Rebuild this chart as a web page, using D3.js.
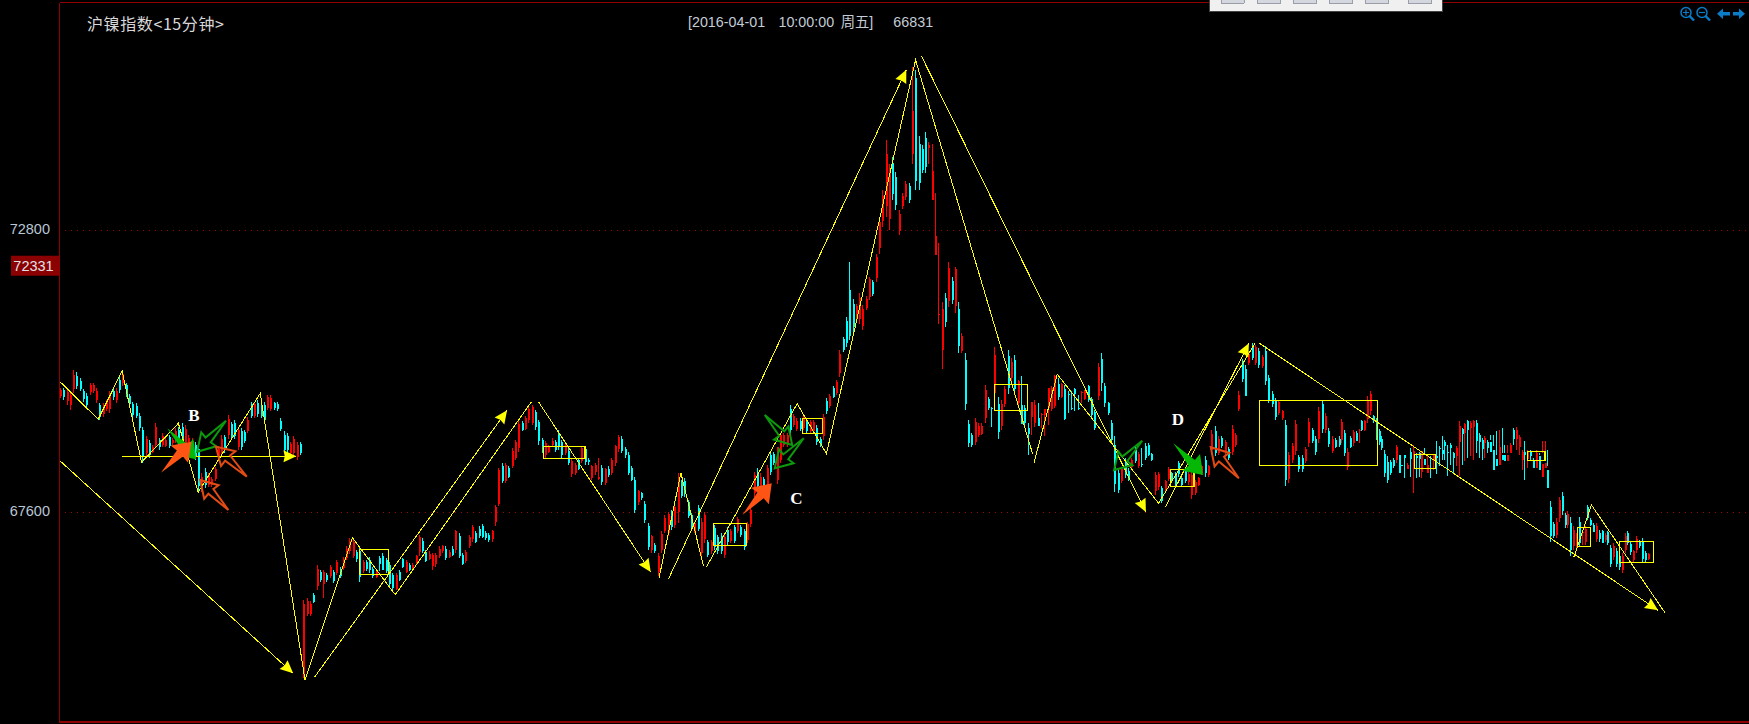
<!DOCTYPE html>
<html><head><meta charset="utf-8">
<style>html,body{margin:0;padding:0;background:#000;overflow:hidden}svg{display:block}text{white-space:pre}</style>
<script src="https://cdn.jsdelivr.net/npm/d3@7"></script></head><body><div id="c"></div>
<script>
const chartTitle="沪镍指数<15分钟>";
const cursorText="[2016-04-01  10:00:00 周五]   66831";
const tickLabels=[72800,67600];
const lastPrice=72331;
const highs=[
69890,69890,69860,69830,70230,70180,70070,69870,69800,69980,
69990,69890,69610,69610,69670,69830,69870,69890,70100,70210,
69980,69790,69640,69610,69430,69180,69010,68930,68840,69240,
68970,69060,68970,69030,68970,69150,69180,69240,69210,69030,
68970,68900,68840,68320,68410,68320,68260,68440,68810,69030,
69030,69390,69270,69300,69180,69150,69120,69360,69640,69640,
69670,69610,69640,69760,69760,69640,69640,69330,69090,69060,
68900,69010,68900,68900,65980,66020,65960,66110,66630,66540,
66540,66480,66630,66540,66720,66600,66780,66970,67120,67120,
66910,66940,66720,66720,66770,66600,66540,66790,66850,66760,
66690,66480,66480,66540,66760,66720,66660,66660,66820,67190,
67120,66910,66880,66850,66850,66970,67000,66970,66910,66970,
67280,67220,66850,66910,67190,67370,67250,67340,67390,67250,
67220,67280,67740,68420,68510,68510,68460,68780,68940,69280,
69280,69370,69550,69580,69490,69310,68970,68910,68850,68970,
68940,69120,68940,68880,68780,68600,68510,68600,68810,68810,
68600,68480,68510,68600,68480,68420,68450,68600,68850,69030,
69000,68810,68720,68450,68260,68010,67980,67800,67400,67190,
67030,66850,67250,67550,67610,67650,67740,68320,68200,68230,
67830,67590,67430,67740,67490,67610,67090,67090,67370,67180,
67210,67210,67330,67300,67370,67520,67370,67300,67430,67700,
68350,68410,68320,68260,68470,68720,68720,68630,68870,69060,
69060,69580,69420,69330,69330,69420,69330,69300,69300,69210,
68990,69420,69700,69790,69920,70040,70590,70840,71210,72220,
71540,71450,71640,71420,71580,71940,71880,72370,73050,73540,
74460,74030,74160,73880,73170,73480,73700,73670,75820,75750,
74530,74370,74620,74430,74400,73480,72560,71480,71640,72220,
71940,72130,71480,70900,70530,69300,69060,69330,69240,69240,
69950,69730,69550,70650,69730,69670,69920,70590,70440,70500,
70040,70120,69580,69240,69400,69670,69610,69430,69460,69550,
69920,70130,70070,69980,69950,69830,69830,69890,69770,69830,
69860,69950,69730,69490,70350,70530,69980,69640,69300,69000,
68380,68440,68600,68410,68600,68810,68720,68780,68870,68870,
68690,68350,68350,68080,68200,68440,68350,68350,68540,68260,
68410,68350,68350,68200,68260,68480,68630,68480,69120,69190,
69000,69000,68940,68810,69210,69060,69830,70420,70320,70560,
70720,70690,70630,70500,70660,70130,69830,69700,69670,69490,
69300,68720,68870,69300,68660,68660,68810,69340,69150,69000,
69550,69670,69430,69150,69000,68970,69000,69320,69120,68780,
69000,69120,69090,69130,69310,69310,69740,69840,69400,69340,
69130,69000,68750,68630,68570,68600,68850,68660,68510,68660,
68510,68780,68850,68690,68720,68630,68780,68660,68630,68600,
68910,68820,69000,68940,68850,68880,68720,68820,69280,69150,
69250,69310,69280,69310,69310,69060,68970,69000,68940,68940,
68820,68660,68720,68690,68690,68690,68880,69150,69170,69030,
68750,68910,68750,68750,68600,68750,68690,68690,68600,68450,
67800,67430,67490,67890,67970,67590,67620,67520,67340,67220,
67520,67280,67340,67740,67490,67400,67400,67280,67280,67220,
67250,67000,67030,66940,66850,66850,67220,67250,67060,66910,
67160,67090,67120,66880,66850
];
const lows=[
69700,69680,69580,69490,69800,69870,69830,69640,69520,69760,
69800,69610,69300,69360,69460,69430,69670,69610,69800,69920,
69730,69550,69330,69330,69090,68500,68630,68600,68690,68780,
68750,68800,68800,68780,68840,68870,68810,68870,68720,68630,
68630,68570,67980,67980,68040,68070,68070,68170,68570,68630,
68690,68960,68930,68960,68750,68750,68870,69060,69330,69330,
69360,69330,69240,69490,69460,69490,69460,69090,68690,68690,
68660,68630,68570,68660,64540,65680,65680,65920,66170,66320,
66020,66320,66380,66290,66440,66380,66540,66720,66840,66750,
66690,66320,66480,66510,66480,66380,66380,66510,66540,66480,
66230,66170,66170,66330,66570,66480,66510,66510,66630,66790,
66850,66690,66720,66540,66600,66760,66850,66720,66760,66790,
66850,66760,66630,66660,66940,67060,67030,67120,67120,67090,
67060,67060,67340,67710,68140,68140,68230,68420,68570,68720,
69090,69120,69250,69210,69120,68850,68690,68600,68690,68810,
68720,68750,68600,68660,68480,68260,68290,68380,68510,68480,
68480,68200,68290,68200,68110,68110,68260,68290,68450,68720,
68690,68600,68290,68170,67590,67740,67830,67400,66910,66850,
66850,66420,66850,67220,67160,67280,67310,67400,67860,67890,
67490,67280,67220,67250,66780,67030,66780,66840,66900,66840,
66840,66750,67000,67030,67030,67210,67150,66900,67030,67330,
67890,68040,67890,67950,68070,68290,68470,68130,68500,68810,
68810,69050,69180,69090,69090,69120,69050,69050,69050,68840,
68810,68930,69420,69520,69700,69760,70100,70560,70650,70780,
70930,71150,71080,70960,71330,71510,71580,71850,72370,72870,
73050,72800,73360,73170,72710,73200,73360,73300,74030,73540,
73540,73850,73850,74030,73820,72560,71080,70250,71020,71390,
71450,71270,70530,70530,69480,68810,68810,68840,68990,69020,
69240,69490,69180,69670,68960,69120,69550,69790,70010,69790,
69550,69490,69180,68660,69030,69180,69300,69150,69000,69210,
69460,69520,69670,69700,69300,69430,69490,69460,69490,69610,
69670,69640,69330,69120,69670,69830,69550,69400,68870,67980,
67960,68140,68230,68170,68410,68510,68410,68440,68570,68630,
68540,67920,68010,67770,67980,68170,68170,68080,68260,68080,
68140,68110,67840,67920,68080,68290,68260,68260,68690,68630,
68660,68780,68660,68570,68660,68810,69460,70010,69740,70320,
70410,70320,70260,70260,69950,69610,69550,69300,69400,69300,
68080,68140,68510,68660,68350,68350,68510,68810,68870,68660,
68870,69060,69060,68810,68690,68780,68810,68880,68630,68380,
68780,68820,68940,68880,69090,69090,69250,69400,69250,68940,
68850,68750,68260,68140,68290,68420,68510,68510,68510,68230,
68480,68260,67950,68230,68260,68230,68700,68380,68230,68380,
68310,68450,68570,68570,68270,68480,68320,68450,68270,68480,
68540,68600,68630,68560,68690,68600,68570,68600,68690,69030,
69030,69090,69120,69150,68850,68850,68720,68850,68750,68660,
68380,68200,68420,68540,68510,68510,68660,68910,68910,68750,
67060,67120,67120,67430,67550,67310,67310,66790,66910,66910,
66970,67000,67000,67460,67340,67250,67060,67060,67040,67060,
67000,66600,66720,66600,66540,66480,66850,67000,66820,66690,
66850,66940,66660,66690,66720
];
const opens=[
69740,69850,69650,69570,69880,70120,70020,69830,69750,69810,
69840,69670,69570,69410,69500,69500,69830,69670,70040,69980,
69940,69750,69600,69560,69380,69120,68700,68880,68720,68850,
68930,68840,68830,68990,68870,68910,69120,69180,68800,68700,
68680,68850,68760,68050,68350,68110,68100,68210,68600,68700,
68980,69020,69220,69240,68810,69090,69080,69100,69590,69380,
69620,69560,69580,69530,69510,69610,69600,69290,69030,69000,
68700,68690,68620,68860,64580,65730,65720,66080,66240,66500,
66280,66450,66420,66500,66480,66560,66580,66760,66880,66800,
66870,66880,66520,66680,66720,66560,66410,66750,66800,66720,
66630,66440,66180,66500,66730,66500,66620,66540,66660,66870,
67080,66870,66740,66610,66640,66800,66880,66930,66780,66930,
66900,67170,66810,66700,66980,67100,67210,67300,67340,67210,
67180,67100,67430,67760,68460,68170,68420,68460,68610,68790,
69240,69140,69300,69250,69450,69270,68930,68650,68720,68840,
68900,69070,68890,68700,68730,68300,68320,68560,68550,68770,
68570,68230,68340,68220,68420,68140,68400,68330,68500,68770,
68950,68770,68660,68420,68200,67790,67950,67750,67340,66900,
67000,66500,66900,67260,67220,67600,67360,67600,68160,68180,
67790,67550,67250,67680,66850,67100,67050,66880,67310,67140,
67160,66820,67280,67070,67320,67250,67330,67250,67090,67380,
67950,68350,67950,68210,68120,68660,68680,68200,68560,68850,
68850,69500,69210,69130,69290,69160,69290,69090,69090,69150,
68960,69000,69660,69560,69890,69800,70170,70800,71130,71700,
71450,71190,71160,71030,71370,71570,71840,71920,72470,72970,
73250,73000,74050,73780,72780,73240,73410,73610,74200,75600,
74400,74300,74500,74320,73350,72350,71250,70600,71550,71500,
71870,71400,71350,70580,70400,69230,69020,68900,69030,69050,
69340,69690,69520,69800,69600,69200,69600,70480,70070,70400,
69620,69580,69520,69160,69350,69250,69340,69390,69390,69520,
69510,69560,69960,69730,69880,69790,69520,69870,69530,69800,
69690,69920,69690,69450,69750,70430,69920,69610,69240,68850,
68320,68180,68550,68370,68440,68770,68450,68490,68830,68840,
68670,68000,68060,68040,68010,68210,68320,68310,68500,68230,
68370,68150,67920,67960,68110,68320,68570,68290,68750,69100,
68700,68970,68710,68770,68720,68840,69510,70360,70250,70350,
70670,70360,70580,70290,70580,70070,69790,69650,69440,69330,
69210,68220,68560,68730,68620,68610,68550,68880,69110,68950,
68950,69600,69110,69100,68730,68940,68960,68940,69060,68440,
68970,68870,69060,69090,69280,69120,69320,69460,69380,69290,
69090,68960,68680,68530,68530,68560,68560,68650,68470,68650,
68400,68720,68580,68630,68690,68350,68580,68330,68600,68550,
68640,68790,68740,68890,68720,68840,68690,68640,68900,69130,
69060,69280,69150,69180,69250,69020,68930,68880,68900,68890,
68750,68590,68470,68660,68660,68540,68700,69110,68950,68800,
68560,68710,68580,68720,68570,68410,68630,68250,68410,68380,
67690,67380,67180,67500,67900,67550,67360,67410,66980,66960,
67430,67240,67050,67690,67460,67370,67110,67210,67250,67090,
67240,66940,66770,66890,66800,66540,66910,67210,67020,66720,
66900,67060,67050,66850,66740
];
const closes=[
69850,69730,69810,69760,70130,69920,69880,69690,69580,69940,
69950,69830,69360,69550,69630,69770,69720,69840,69850,70150,
69780,69600,69390,69380,69150,68620,68950,68660,68810,69170,
68800,69010,68930,68830,68940,69100,68870,68930,69140,68970,
68910,68620,68080,68260,68100,68280,68220,68400,68770,68960,
68740,69320,68980,69010,69120,68810,68910,69310,69380,69590,
69410,69380,69300,69720,69710,69520,69500,69130,68750,68750,
68860,68950,68840,68700,65900,65970,65910,65950,66560,66360,
66500,66350,66590,66330,66680,66420,66740,66930,67080,67060,
66730,66400,66680,66550,66530,66420,66510,66650,66540,66510,
66280,66200,66440,66360,66590,66680,66540,66630,66790,67140,
66890,66710,66840,66810,66820,66930,66970,66750,66870,66810,
67250,66790,66650,66870,67150,67320,67060,67160,67150,67120,
67090,67250,67700,68380,68180,68470,68260,68730,68900,69220,
69110,69340,69500,69540,69180,68910,68720,68870,68820,68920,
68750,68800,68650,68850,68510,68550,68470,68390,68780,68520,
68530,68450,68480,68250,68150,68400,68280,68570,68820,68980,
68730,68650,68320,68200,67650,67990,67860,67450,66960,67160,
66880,66800,67200,67500,67560,67320,67690,68250,67900,67930,
67530,67330,67400,67300,67420,67550,66820,67050,66960,66880,
66890,67150,67050,67260,67070,67480,67180,66960,67380,67650,
68290,68090,68260,67990,68410,68350,68510,68810,69020,69020,
69020,69120,69380,69290,69130,69370,69090,69260,69260,68900,
68840,69350,69460,69750,69730,70000,70520,70600,70730,70850,
71020,71410,71560,71350,71540,71900,71620,72300,72950,73440,
74200,73950,73470,73270,73100,73440,73650,73360,75000,73700,
73680,73920,73960,74370,73900,72700,71250,71350,71100,72100,
71520,72090,70660,70850,69600,68880,68850,69260,69200,69200,
69850,69520,69500,70500,69080,69600,69870,69900,70380,69880,
70030,69230,69250,69040,69630,69570,69200,69420,69500,69890,
69890,70120,69720,69970,69320,69770,69500,69780,69500,69820,
69850,69680,69390,69150,70280,69980,69610,69430,68930,68120,
68020,68400,68280,68200,68570,68550,68680,68480,68600,68660,
68560,68290,68300,67810,68170,68400,68200,68120,68300,68110,
68180,68310,68280,68160,68230,68450,68320,68450,69050,68700,
68950,68820,68890,68610,69140,69020,69770,70060,69740,70520,
70450,70640,70310,70460,70030,69680,69590,69350,69630,69460,
68200,68650,68820,69230,68390,68400,68770,69270,68910,68710,
69470,69130,69380,68860,68960,68810,68850,69260,68700,68720,
68810,69080,68920,69120,69120,69280,69680,69780,69280,69000,
68890,68790,68330,68200,68330,68450,68800,68320,68450,68600,
68480,68580,68730,68610,68580,68730,68480,68480,68580,68680,
68600,68780,68680,68820,68700,68780,68600,68780,69200,69050,
69220,69120,69250,69280,68920,68890,68760,68970,68790,68710,
68380,68450,68810,68570,68550,68660,68840,68950,69120,68980,
68710,68650,68710,68630,68420,68690,68380,68490,68510,68050,
67170,67170,67430,67820,67620,67360,67570,66900,67270,67170,
67040,67240,67290,67500,67370,67240,67350,67100,67040,67190,
67040,66650,66980,66650,66590,66790,67160,67040,66860,66880,
67110,66970,66730,66720,66830
];
const barAnchors=[0,96,193,290,386,494];
const thinTrends=[[[-0.2,68560],[70.9,64630]],[[77.4,64560],[135.6,69480]],[[184.2,66365],[256.3,75760]],[[260.9,76010],[328.4,67605]],[[362.4,70716],[497.7,65793]]];
const zigzag=[[[-0.2,70020],[11.6,69315],[18.9,70206],[24.8,68522],[36,69241],[42,67969],[60.9,69794],[74.5,64508],[88.9,67132],[101.9,66081],[142.9,69634]],
[[145.1,69634],[178.9,66499]],
[[181.4,66388],[188,68325],[194.8,66610]],
[[195.7,66591],[223.2,69603],[232.1,68681],[259.1,75940],[294.5,68681]],
[[294.9,68504],[301.9,70145],[332.2,67766],[361,70716]],
[[334.3,67703],[359.2,70716]],
[[468.3,66781],[474.4,67735],[500.1,65749]]];
const levelLine=[[18.9,68633],[71.9,68633]];
const boxes=[[91,99.9,66918,66449],[146.7,159.1,68817,68588],[197.8,207.9,67397,66984],[224.8,231,69333,69057],[283,293,69960,69481],[335.7,342.8,68393,68072],[362.3,399.5,69665,68467],[412.6,419.9,68662,68404],[452.1,458.2,68725,68552],[469.4,474.1,67323,66966],[484.1,496.2,67065,66671]];
const filledOrange=[[[30.7,68330],[40,68902]],[[206.6,67550],[215.5,68135]]];
const filledGreen=[[[32.6,69149],[41.4,68577]],[[336.6,68872],[345.5,68288]]];
const outlineGreen=[[[50.5,69289],[41.7,68717]],[[213.4,69394],[221.7,68841]],[[225.2,68965],[216.4,68411]],[[327.3,68920],[318.9,68380]]];
const outlineOrange=[[[56.8,68256],[47.4,68810]],[[51.2,67642],[42.6,68196]],[[356.2,68227],[347.8,68799]]];
const waveLabels=[["B",40.7,69394],["C",223,67853],["D",338,69313]];

const W=1749,H=724;
const svg=d3.select("#c").append("svg").attr("width",W).attr("height",H).style("background","#000");
const x=d3.scaleLinear().domain(barAnchors).range([60,375.7,697.5,1017.5,1338.5,1647.5]);
const y=d3.scaleLinear().domain([67600,72800]).range([512.3,230.3]);
const LBL='"Liberation Sans",Arial,sans-serif', CJK='"Noto Sans CJK SC","Liberation Sans",sans-serif';
const UP="#ff0000",DOWN="#00ffff",YEL="#ffff00",FRAME="#8f0000";

svg.append("g").selectAll("line").data(tickLabels).join("line")
 .attr("x1",65).attr("x2",1746).attr("y1",d=>Math.round(y(d))+.5).attr("y2",d=>Math.round(y(d))+.5)
 .attr("stroke","#a00000").attr("stroke-dasharray","1 5");
const ax=svg.append("g").attr("transform","translate(50,0)").call(d3.axisLeft(y).tickValues(tickLabels).tickSize(0).tickPadding(0).tickFormat(d3.format("d")));
ax.select(".domain").remove();
ax.selectAll("text").attr("font-family",LBL).attr("font-size",14.5).attr("fill","#b9c6d4").attr("dy","0.22em");
const n=Math.min(highs.length,lows.length,opens.length,closes.length);
const idx=d3.range(n);
const isUp=i=>closes[i]>=opens[i];
const g=svg.append("g").attr("shape-rendering","crispEdges");
g.selectAll("line.w").data(idx).join("line").attr("class","w")
 .attr("x1",i=>Math.round(x(i))+.5).attr("x2",i=>Math.round(x(i))+.5)
 .attr("y1",i=>y(highs[i])).attr("y2",i=>y(lows[i]))
 .attr("stroke",i=>isUp(i)?UP:DOWN);
g.selectAll("rect").data(idx).join("rect")
 .attr("x",i=>Math.round(x(i))).attr("width",2)
 .attr("y",i=>y(Math.max(opens[i],closes[i])))
 .attr("height",i=>Math.max(1,Math.abs(y(opens[i])-y(closes[i]))))
 .attr("fill",i=>isUp(i)?UP:DOWN);
svg.append("g").attr("shape-rendering","crispEdges").selectAll("rect").data(boxes).join("rect")
 .attr("x",d=>x(d[0])).attr("width",d=>x(d[1])-x(d[0])).attr("y",d=>y(d[2])).attr("height",d=>y(d[3])-y(d[2]))
 .attr("fill","none").attr("stroke",YEL).attr("stroke-width",1.2);
const lineGen=d3.line().x(d=>x(d[0])).y(d=>y(d[1]));
const lg=svg.append("g").attr("fill","none").attr("stroke",YEL).attr("shape-rendering","crispEdges").attr("stroke-width",1);
lg.selectAll("path.t").data(thinTrends).join("path").attr("class","t").attr("d",lineGen);
lg.selectAll("path.z").data(zigzag).join("path").attr("class","z").attr("d",lineGen);
lg.append("path").attr("d",lineGen(levelLine));
function head(a,b,len,hw){
 const ax=x(a[0]),ay=y(a[1]),bx=x(b[0]),by=y(b[1]),L=Math.hypot(bx-ax,by-ay),ux=(bx-ax)/L,uy=(by-ay)/L;
 const cx=bx-ux*len,cy=by-uy*len;
 return [[bx,by],[cx-uy*hw,cy+ux*hw],[bx-ux*len*.9,by-uy*len*.9],[cx+uy*hw,cy-ux*hw]].join(" ");
}
const heads=[...thinTrends,[zigzag[1][0],zigzag[1][1]],levelLine,[zigzag[5][0],zigzag[5][1]]];
svg.append("g").selectAll("polygon").data(heads).join("polygon")
 .attr("points",d=>head(d[0],d[1],13,6)).attr("fill",YEL);
function arrow(d,w){
 const ax=x(d[0][0]),ay=y(d[0][1]),bx=x(d[1][0]),by=y(d[1][1]),dx=bx-ax,dy=by-ay;
 const P=(t,n)=>[ax+dx*t-dy*n*w,ay+dy*t+dx*n*w];
 return [P(0,0),P(.62,.07),P(.6,.2),P(1,0),P(.6,-.2),P(.62,-.07)].join(" ");
}
const ag=svg.append("g");
ag.selectAll("polygon.go").data(outlineGreen).join("polygon").attr("class","go").attr("points",d=>arrow(d,1.2)).attr("fill","none").attr("stroke","#0c9a0c").attr("stroke-width",2);
ag.selectAll("polygon.oo").data(outlineOrange).join("polygon").attr("class","oo").attr("points",d=>arrow(d,1.2)).attr("fill","none").attr("stroke","#e24c14").attr("stroke-width",2);
ag.selectAll("polygon.fg").data(filledGreen).join("polygon").attr("class","fg").attr("points",d=>arrow(d,1.4)).attr("fill","#06b806");
ag.selectAll("polygon.fo").data(filledOrange).join("polygon").attr("class","fo").attr("points",d=>arrow(d,1.4)).attr("fill","#ff5414");
svg.append("g").selectAll("text").data(waveLabels).join("text")
 .attr("x",d=>x(d[1])).attr("y",d=>y(d[2])).attr("text-anchor","middle").attr("dominant-baseline","central")
 .attr("font-family",'"Liberation Serif",serif').attr("font-weight","bold").attr("font-size",17).attr("fill","#fff").text(d=>d[0]);
const frame=svg.append("g").attr("shape-rendering","crispEdges").attr("stroke",FRAME).attr("fill","none");
frame.append("path").attr("d","M59.5,2.5H1749M59.5,2.5V722");
frame.append("path").attr("d","M59,721.5H1749").attr("stroke-width",2);
svg.append("rect").attr("x",11).attr("width",48).attr("y",y(lastPrice)).attr("height",20).attr("fill","#8b0000");
svg.append("text").attr("x",33.5).attr("y",y(lastPrice)+10).attr("dominant-baseline","central").attr("text-anchor","middle")
 .attr("font-family",LBL).attr("font-size",14.5).attr("fill","#e0e0e8").text(lastPrice);
svg.append("text").attr("x",87).attr("y",23).attr("dominant-baseline","central").attr("font-family",CJK).attr("font-size",16).attr("letter-spacing",0.6).attr("fill","#d8d8d8").text(chartTitle);
svg.append("text").attr("x",688).attr("y",22).attr("dominant-baseline","central").attr("font-family",'"Liberation Sans","Noto Sans CJK SC",sans-serif').attr("font-size",14.3).attr("word-spacing",2.7).attr("fill","#c4ccd6").text(cursorText);
const bar=svg.append("g").attr("shape-rendering","crispEdges");
bar.append("rect").attr("x",1209.5).attr("y",-2).attr("width",233).attr("height",13.5).attr("fill","#f0f0f0").attr("stroke","#444");
bar.selectAll("rect.b").data([1221,1257.5,1293.5,1329.5,1365.5,1408.5]).join("rect").attr("class","b")
 .attr("x",d=>d).attr("y",-3).attr("width",23).attr("height",6.5).attr("rx",1).attr("fill","#d4d7de").attr("stroke","#9a9ea8");
const ic=svg.append("g").attr("stroke","#0a7cc8").attr("stroke-width",1.5).attr("fill","none");
[1686,1702].forEach((cx,k)=>{
 ic.append("circle").attr("cx",cx).attr("cy",12.5).attr("r",5);
 ic.append("path").attr("d",`M${cx+3.5},16L${cx+8},20.5`).attr("stroke-width",2.4);
 ic.append("path").attr("d",k==0?`M${cx-3},12.5H${cx+3}M${cx},9.5V15.5`:`M${cx-3},12.5H${cx+3}`).attr("stroke-width",1.2);
});
svg.append("polygon").attr("points","1717,13.7 1723,8.5 1723,12 1730,12 1730,15.5 1723,15.5 1723,19").attr("fill","#0a7cc8");
svg.append("polygon").attr("points","1745,13.7 1739,8.5 1739,12 1733,12 1733,15.5 1739,15.5 1739,19").attr("fill","#0a7cc8");
</script></body></html>
